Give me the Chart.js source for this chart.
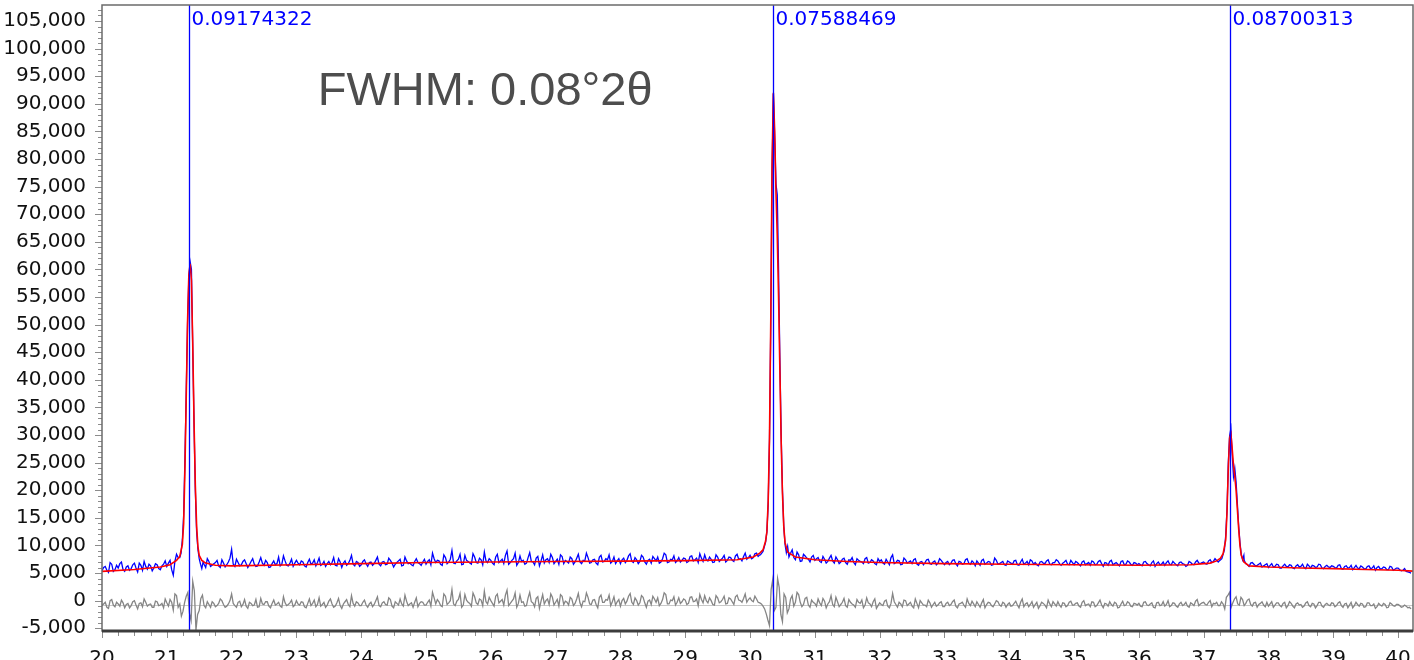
<!DOCTYPE html>
<html>
<head>
<meta charset="utf-8">
<title>XRD profile fit</title>
<script src="https://cdn.jsdelivr.net/npm/chart.js@4.4.1/dist/chart.umd.min.js"></script>
<style>
    html, body { margin: 0; padding: 0; background: #fff; }
    .chart-box { width: 1414px; height: 660px; position: relative; }
</style>
</head>
<body>
<div class="chart-box"><canvas id="xrdChart"></canvas></div>
<script>
// Scan settings (degrees 2theta)
const scanStart = 20.0;
const scanStep = 0.05;

// Observed counts on the whole steps, one row per degree; null where peak detail takes over
const obsCounts = [
    5400, 6200, 5100, 6600, 5600, 5900, 7000, 5300, 6300, 5800, 6800, 5200, 6400, 7100, 5700, 6300, 5900, 6500, 5600, 6600,
    6200, 7300, 4600, 8400, null, null, null, null, null, null, null, null, 6000, 7100, 6400, 6900, 6300, 7400, 6100, 7000,
    9300, 6200, 6900, 6500, 7400, 6000, 7100, 6600, 6300, 7800, 6400, 6900, 6100, 7200, 6700, 6300, 8100, 6400, 6800, 6200,
    7300, 6500, 7000, 6100, 7500, 6800, 6300, 7700, 6600, 6200, 7100, 6900, 6400, 7600, 6000, 7200, 6700, 8200, 6300, 6900,
    6500, 7400, 6200, 7000, 6700, 7900, 6300, 7100, 6600, 7300, 6100, 6900, 7500, 6400, 7200, 6800, 6300, 7600, 6700, 7000,
    6600, 7400, 8600, 6900, 7200, 6400, 7800, 7000, 9100, 6700, 7500, 6500, 8200, 7100, 6600, 7900, 6800, 7400, 8800, 6900,
    7300, 6500, 8400, 7200, 6700, 9000, 6900, 7600, 6400, 8100, 7300, 6800, 8700, 7000, 7700, 6300, 8300, 7400, 6900, 7800,
    7100, 6600, 8000, 7300, 6800, 7600, 7000, 8400, 6700, 7200, 7800, 6900, 7500, 6500, 8200, 7100, 7400, 6800, 7900, 7200,
    6700, 7700, 7300, 8500, 6900, 7400, 7100, 7900, 6600, 7500, 8000, 7200, 6800, 7600, 8300, 7000, 7400, 6900, 7800, 7300,
    7600, 7100, 8100, 7400, 6900, 7700, 8300, 7200, 7500, 7000, 7900, 7400, 8200, 7300, 7800, 7100, 8400, 7600, 8000, 7500,
    8200, 7800, 8600, 8300, null, null, null, null, null, null, null, null, 7900, 9200, 7400, 8300, 7200, 8100, 7500, 7900,
    7300, 7800, 6900, 7500, 7100, 8200, 6800, 7400, 7000, 7700, 6600, 7300, 6900, 7600, 7100, 6700, 7800, 6900, 7200, 6500,
    7100, 6800, 7500, 6500, 8300, 6900, 7200, 6600, 7400, 7000, 6700, 7600, 6400, 7100, 6900, 7500, 6600, 7200, 6800, 7300,
    6500, 7100, 6800, 7400, 6300, 7000, 6700, 7600, 6600, 6900, 7200, 6400, 7500, 6800, 7000, 6500, 7300, 6700, 7100, 6400,
    7000, 6600, 7300, 6400, 7500, 6800, 6500, 7200, 6900, 6300, 7100, 6700, 7400, 6500, 6900, 7200, 6400, 7000, 6600, 7300,
    6500, 6900, 6300, 7200, 6700, 6400, 7000, 6600, 7300, 6200, 6800, 7100, 6500, 6900, 6300, 7200, 6600, 7000, 6400, 6800,
    6700, 6300, 7100, 6500, 6900, 6200, 7000, 6600, 6400, 7200, 6500, 6800, 6300, 7000, 6600, 6400, 6900, 6500, 7300, 6700,
    7000, 6600, 7400, 7100, 7300, null, null, null, null, null, null, null, null, 6700, 6200, 6900, 6300, 6600, 6100, 6500,
    6000, 6700, 6200, 6500, 5900, 6600, 6100, 6400, 5800, 6500, 6200, 6000, 6600, 5900, 6300, 6100, 6500, 5800, 6400, 6000,
    6200, 5900, 6500, 5700, 6300, 6000, 5600, 6400, 5800, 6100, 5700, 6300, 5900, 5500, 6200, 5800, 6000, 5600, 6100, 5700,
    5900, 5400, 5800, 5200, 5000
];

// Observed counts on the half steps (20.025, 20.075, ...)
const obsCountsMid = [
    6000, 5500, 6900, 5300, 6400, 6700, 5600, 6100, 5500, 6500, 5900, 6800, 5500, 6200, 6600, 5400, 6700, 5800, 6300, 7200,
    6800, 5600, 7100, 7800, null, null, null, null, null, null, null, 6600, 7600, 6200, 6700, 7300, 6000, 6800, 6500, 7700,
    6600, 7500, 6300, 7100, 6700, 6500, 7600, 6200, 7000, 6800, 7300, 6000, 6700, 6500, 7900, 6600, 7200, 6300, 7500, 6800,
    6800, 7200, 6300, 6900, 6600, 7400, 6900, 6400, 7100, 6700, 6500, 7800, 6300, 7000, 6800, 6400, 7300, 6600, 7100, 6200,
    7100, 6700, 6900, 6400, 7300, 6600, 7000, 6500, 7700, 6800, 6600, 7200, 6300, 7900, 6700, 6500, 7100, 6900, 6400, 7500,
    7100, 6500, 7600, 7300, 6600, 8300, 6700, 7500, 6800, 7200, 8400, 6600, 7300, 6800, 8500, 6900, 7700, 6500, 7200, 7600,
    6800, 7900, 6900, 7500, 8200, 6600, 7300, 8600, 6900, 7100, 6600, 7800, 7100, 6500, 8000, 7200, 6800, 7600, 8400, 6700,
    7500, 8300, 6700, 7100, 7900, 6600, 7700, 7000, 7300, 8600, 6800, 7400, 6800, 7900, 7000, 7600, 8300, 7100, 6700, 7600,
    7400, 6900, 8100, 7100, 7800, 6700, 8200, 7000, 7300, 6800, 7600, 7900, 7000, 8600, 6900, 7500, 8100, 7200, 7000, 7700,
    6900, 8000, 7200, 7700, 8500, 7100, 7400, 7900, 6900, 8300, 7100, 7700, 7000, 7900, 7300, 8100, 7500, 7200, 8600, 7800,
    7600, 8500, 8000, null, null, null, null, null, null, null, null, null, 8600, 7800, 8800, 7100, 8400, 7700, 7000, 8200,
    7600, 7100, 8000, 6800, 7700, 7200, 7900, 6700, 7500, 6900, 7400, 7800, 6500, 7300, 7000, 7600, 6800, 7400, 6700, 7600,
    7400, 6600, 7000, 7800, 6700, 7300, 6500, 7700, 6800, 7200, 7400, 6600, 7000, 6500, 7400, 6700, 7000, 6500, 7600, 6900,
    6900, 6500, 7300, 6700, 7100, 6600, 7400, 6800, 7200, 6300, 6800, 7300, 6600, 7100, 6400, 7700, 6600, 6900, 6500, 7200,
    6800, 7200, 6500, 7000, 6600, 7100, 7400, 6600, 6500, 7000, 6800, 7200, 6600, 6900, 7400, 6700, 6800, 7300, 6500, 6900,
    7100, 6600, 7000, 6500, 6900, 7200, 6500, 7100, 6700, 6900, 6400, 7300, 6700, 6600, 7100, 6500, 7200, 6600, 6900, 6500,
    6500, 7000, 6700, 6300, 7200, 6700, 6500, 7000, 6900, 6600, 7100, 6500, 6900, 6700, 6200, 7100, 6600, 7000, 6800, 6900,
    6700, 7200, 6900, 7600, 7000, null, null, null, null, null, null, null, 7300, 6500, 6800, 6600, 6400, 6800, 6300, 6700,
    6400, 6100, 6600, 5900, 6300, 6200, 6500, 5900, 6300, 6100, 6600, 5800, 6300, 6400, 6000, 6600, 5900, 6200, 6100, 6300,
    6000, 6400, 5800, 6200, 5900, 6400, 6000, 5900, 6300, 5800, 6200, 5800, 6300, 6000, 5700, 6100, 5600, 6200, 5500, 5900,
    5600, 5500, 5300, 5100
];

// Observed peak detail (finer steps)
const peak1Theta = [21.20, 21.22, 21.24, 21.26, 21.28, 21.30, 21.32, 21.34, 21.36, 21.38, 21.40, 21.42, 21.44, 21.46, 21.48, 21.50, 21.52, 21.54, 21.56];
const peak1Counts = [7800, 8600, 11000, 15500, 26000, 38000, 50000, 58500, 61400, 60000, 46000, 32000, 20000, 12500, 9300, 7600, 6600, 5800, 7000];
const peak2Theta = [30.16, 30.20, 30.24, 30.26, 30.28, 30.30, 30.32, 30.34, 30.36, 30.38, 30.40, 30.42, 30.44, 30.46, 30.48, 30.50, 30.52, 30.54, 30.56, 30.58];
const peak2Counts = [8300, 8900, 10600, 12500, 17500, 29000, 50000, 78000, 91800, 84000, 75500, 73500, 60000, 44000, 30000, 20000, 13500, 10200, 8700, 9800];
const peak3Theta = [37.24, 37.28, 37.32, 37.34, 37.36, 37.38, 37.40, 37.42, 37.44, 37.46, 37.48, 37.50, 37.52, 37.54, 37.56, 37.58, 37.60, 37.62];
const peak3Counts = [7200, 7600, 9200, 11800, 16500, 25000, 29800, 31200, 26500, 22500, 24000, 21500, 17500, 13500, 10500, 8400, 7400, 8200];

// Calculated profile
const calcTheta = [
    20.0, 20.5, 20.9, 21.05, 21.15, 21.20, 21.24, 21.26, 21.28, 21.30, 21.32, 21.34, 21.36, 21.38, 21.40, 21.42, 21.44, 21.46, 21.48, 21.50, 21.54, 21.60, 21.75,
    22.0, 23.0, 24.0, 25.0, 26.0, 27.0, 28.0, 29.0, 29.8, 30.05,
    30.15, 30.20, 30.24, 30.26, 30.28, 30.30, 30.32, 30.34, 30.36, 30.38, 30.40, 30.42, 30.44, 30.46, 30.48, 30.50, 30.52, 30.54, 30.58, 30.70,
    31.0, 31.5, 32.0, 33.0, 34.0, 35.0, 36.0, 36.8, 37.1, 37.2,
    37.26, 37.30, 37.34, 37.36, 37.38, 37.40, 37.42, 37.44, 37.46, 37.48, 37.50, 37.52, 37.54, 37.56, 37.58, 37.62, 37.70,
    38.0, 38.5, 39.0, 39.5, 40.0, 40.23
];
const calcCounts = [
    5300, 5650, 6100, 6500, 7300, 8000, 10200, 14000, 24000, 37000, 50500, 59000, 61000, 58000, 46500, 32500, 21000, 13500, 9800, 8200, 7300, 6800, 6400,
    6300, 6500, 6700, 6900, 7000, 7100, 7150, 7250, 7400, 7900,
    8600, 9200, 10800, 12500, 18000, 29500, 51000, 79000, 92000, 85000, 74000, 66000, 55000, 42000, 29000, 19500, 13500, 10500, 8800, 7900,
    7400, 7100, 6900, 6700, 6600, 6500, 6400, 6500, 6800, 7200,
    7700, 8500, 11000, 16000, 24000, 29500, 30200, 27500, 24500, 22500, 20000, 16500, 13000, 10000, 8200, 7000, 6300,
    6100, 5900, 5800, 5650, 5500, 5350
];

// Difference curve, whole steps and half steps
const diffCounts = [
    -900, -300, -1400, 200, -1100, -600, 100, -1300, -500, -900, 0, -1500, -400, 300, -1000, -600, -1200, -200, -800, -1300,
    -400, 200, -1700, 900, -600, -1900, 800, -2300, 3500, -5300, -1800, 1000, -1300, -700, -200, -1100, -500, 0, -1200, -600,
    1200, -900, -300, -1100, 200, -1400, -500, -800, -1200, 400, -700, -200, -1300, 100, -600, -1000, 700, -900, -400, -1100,
    0, -800, -300, -1300, 300, -500, -1100, 500, -700, -1200, -100, -600, -1000, 400, -1400, -200, -700, 900, -1000, -400,
    -900, 100, -1200, -300, -700, 700, -1100, -200, -800, 200, -1300, -500, 300, -1000, -100, -600, -1200, 500, -500, -300,
    -800, 100, 1500, -600, -200, -1100, 800, -400, 2000, -900, 200, -1200, 1100, -300, -1000, 700, -700, 100, 1700, -600,
    0, -1000, 1200, -100, -800, 1900, -500, 300, -1200, 1000, -200, -900, 1500, -400, 400, -1400, 1100, 0, -700, 600,
    -300, -1000, 800, -100, -800, 300, -500, 1300, -1100, -200, 600, -700, 200, -1300, 1000, -300, 100, -900, 700, -200,
    -1000, 400, -100, 1300, -700, 0, -400, 600, -1200, 100, 800, -300, -900, 200, 1100, -600, 0, -800, 500, -200,
    100, -500, 700, -100, -900, 200, 900, -400, 0, -800, 500, -200, 800, -500, 300, -700, 1000, 0, 400, -300,
    500, -200, 300, -400, -1000, -2400, -4500, 3800, -1200, 2400, -3800, 600, -1500, 900, -300, 1100, -1100, 400, -800, 100,
    -500, 300, -900, -100, -600, 900, -1100, -200, -700, 400, -1200, -300, -800, 200, -500, -1300, 500, -600, -200, -1400,
    -400, -900, 100, -1300, 1300, -700, -300, -1100, 0, -600, -1000, 300, -1300, -400, -800, 100, -1200, -300, -800, -200,
    -1100, -300, -700, 100, -1300, -500, -800, 300, -900, -600, -200, -1200, 200, -700, -400, -1100, 0, -800, -300, -1200,
    -400, -900, -100, -1300, 300, -600, -1100, -200, -700, -1400, -300, -800, 100, -1100, -600, -200, -1200, -500, -900, -100,
    -800, -400, -1200, 0, -700, -1100, -300, -900, 100, -1300, -600, -200, -1000, -500, -1200, -100, -800, -400, -1100, -600,
    -500, -1100, -200, -900, -400, -1300, -300, -800, -1000, 0, -900, -500, -1200, -300, -700, -1000, -400, -900, 200, -600,
    -300, -800, 0, -500, -300, -900, -600, 600, 1500, -400, 700, -800, 200, -500, 300, -1000, -300, -700, -200, -1100,
    -1000, -200, -800, -400, -1100, -300, -900, -500, -1300, -400, -700, -1000, -200, -1100, -600, -900, -300, -1200, -500, -900,
    -500, -900, -200, -1200, -500, -800, -1300, -300, -1000, -600, -1100, -400, -900, -1400, -500, -1000, -700, -1200, -600, -1000,
    -700, -1200, -800, -1300, -1500
];
const diffCountsMid = [
    -600, -1200, 0, -800, -300, -1000, -400, -700, -1300, -200, -800, -500, -1100, -300, -700, -1200, -100, -900, -500, 300,
    -1000, -300, 1200, -1200, -2800, -300, 1500, -3600, 1800, -2500, 400, -900, -200, -1200, -500, -900, 300, -700, -1000, 0,
    -500, -1200, -100, -700, -1000, -300, -900, 200, -1100, -600, -200, -1000, -500, -800, -300, -1200, -400, -700, 100, -800,
    -600, -200, -1100, -500, -900, 100, -700, -1000, -300, -800, 300, -1200, -400, -900, -600, 200, -1100, -500, -200, -900,
    -300, -800, -600, -1100, 0, -900, -400, -700, 500, -1000, -200, -800, -600, 1000, -900, -400, -300, -1100, -200, -800,
    -300, -1000, 500, 200, -900, 1200, -700, 0, -600, -100, 1300, -800, 100, -500, 1400, -400, 300, -900, -200, 600,
    -500, 800, -400, 200, 1000, -900, -100, 1400, -500, -300, -1000, 500, -200, -1100, 700, -100, -600, 300, 1200, -800,
    200, 1100, -700, -300, 600, -900, 300, -400, -100, 1400, -600, 100, -700, 600, -300, 200, 1000, -200, -800, 200,
    0, -600, 800, -300, 500, -800, 900, -400, -100, -700, 300, 500, -500, 1400, -600, 100, 700, -300, -500, 300,
    -700, 600, -200, 300, 1100, -400, 0, 500, -700, 900, -400, 200, -600, 500, -200, 700, 100, -300, 1200, 200,
    0, 800, -300, -600, -1500, -3500, 2000, -1800, 4000, -2500, 1200, -2200, 300, -1000, 1500, -300, -700, 600, -1200, -300,
    -1000, -400, 400, -1300, -200, -700, 600, -1100, -300, -900, 200, -600, -1200, -300, 100, -800, -400, -1100, 300, -900,
    -700, -100, -1000, -500, -200, -1200, -600, 100, -900, -300, -1300, -500, 0, -800, -1100, -400, -700, -1000, -400, -1100,
    -500, -900, -200, -1000, -600, -300, -1200, -500, -100, -1100, -700, -400, -1300, -300, -900, -600, -200, -1000, -500, -700,
    -1000, -500, -800, -300, -1100, -400, -700, -1200, -300, -900, -500, -1300, -600, -200, -1000, -800, -400, -1100, -300, -800,
    -500, -1000, -300, -900, -600, -200, -1100, -400, -800, -500, -1000, -700, -300, -1300, -600, -900, -200, -1000, -500, -800,
    -1000, -300, -800, -600, -1200, -400, -900, -200, -700, -1100, -400, -1000, -600, -900, -300, -1200, -600, -100, -900, -400,
    -700, -300, -1100, -600, -900, -200, -1500, 1000, -1200, 300, -600, 600, -900, 100, -700, -400, -1200, -500, -800, -300,
    -600, -1200, -400, -900, -500, -1300, -200, -1000, -600, -800, -1200, -400, -900, -500, -1300, -300, -1000, -700, -800, -400,
    -1100, -400, -900, -600, -1300, -300, -900, -700, -500, -1200, -400, -900, -600, -1100, -800, -500, -1300, -400, -900, -700,
    -900, -1100, -1000, -1200
];
const diffZero = -700;

// Peak markers and their FWHM labels
const peakTheta = [21.343, 30.357, 37.41];
const peakLabels = ['0.09174322', '0.07588469', '0.08700313'];

// Annotation
const noteText = 'FWHM: 0.08\u00B02\u03B8';
const noteAt = [23.33, 92200];

// Axis ticks
const xTickValues = [20, 21, 22, 23, 24, 25, 26, 27, 28, 29, 30, 31, 32, 33, 34, 35, 36, 37, 38, 39, 40];
const yTickValues = [-5000, 0, 5000, 10000, 15000, 20000, 25000, 30000, 35000, 40000, 45000, 50000,
    55000, 60000, 65000, 70000, 75000, 80000, 85000, 90000, 95000, 100000, 105000];
const xRange = [20, 40.23];
const yRange = [-5500, 107900];

// Helpers
function scanPoints(counts, offset) {
    const pts = [];
    counts.forEach((c, i) => {
        if (c === null) return;
        pts.push({ x: +(scanStart + offset + i * scanStep).toFixed(3), y: c });
    });
    return pts;
}

function pairPoints(xs, ys) {
    return xs.map((x, i) => ({ x: x, y: ys[i] }));
}

const byTheta = (a, b) => a.x - b.x;
const obsPoints = scanPoints(obsCounts, 0)
    .concat(scanPoints(obsCountsMid, scanStep / 2))
    .concat(pairPoints(peak1Theta, peak1Counts), pairPoints(peak2Theta, peak2Counts), pairPoints(peak3Theta, peak3Counts))
    .sort(byTheta);
const calcPoints = pairPoints(calcTheta, calcCounts);
const diffPoints = scanPoints(diffCounts, 0).concat(scanPoints(diffCountsMid, scanStep / 2)).sort(byTheta);

const tickFont = { family: '"DejaVu Sans", sans-serif', size: 20 };

// Frame, minor ticks, peak markers, annotation
const decorPlugin = {
    id: 'decor',
    beforeDatasetsDraw(chart) {
        const { ctx, chartArea: a, scales: { y } } = chart;
        const py = Math.round(y.getPixelForValue(diffZero)) + 0.5;
        ctx.save();
        ctx.strokeStyle = '#c8c8c8';
        ctx.lineWidth = 1;
        ctx.beginPath();
        ctx.moveTo(a.left, py);
        ctx.lineTo(a.right, py);
        ctx.stroke();
        ctx.restore();
    },
    afterDatasetsDraw(chart) {
        const { ctx, chartArea: a, scales: { x, y } } = chart;
        ctx.save();
        // vertical peak lines
        ctx.strokeStyle = '#0000ff';
        ctx.lineWidth = 1.3;
        ctx.fillStyle = '#0000ff';
        ctx.font = '20px "DejaVu Sans", sans-serif';
        ctx.textAlign = 'left';
        ctx.textBaseline = 'middle';
        peakTheta.forEach((t, i) => {
            const px = Math.round(x.getPixelForValue(t)) + 0.5;
            ctx.beginPath();
            ctx.moveTo(px, a.top);
            ctx.lineTo(px, a.bottom);
            ctx.stroke();
            ctx.fillText(peakLabels[i], px + 2, a.top + 15);
        });
        // FWHM note
        ctx.fillStyle = '#4d4d4d';
        ctx.font = '47px "Liberation Sans", Arial, sans-serif';
        ctx.fillText(noteText, x.getPixelForValue(noteAt[0]), y.getPixelForValue(noteAt[1]));
        ctx.restore();
    },
    afterDraw(chart) {
        const { ctx, chartArea: a, scales: { x, y } } = chart;
        ctx.save();
        // minor / major tick marks
        ctx.strokeStyle = '#8c8c8c';
        ctx.lineWidth = 1;
        ctx.beginPath();
        for (let v = -5000; v <= yRange[1]; v += 1000) {
            const py = Math.round(y.getPixelForValue(v)) + 0.5;
            const len = v % 5000 === 0 ? 7 : 4;
            ctx.moveTo(a.left - len, py);
            ctx.lineTo(a.left, py);
        }
        for (let k = 0; scanStart + k * 0.25 <= xRange[1]; k++) {
            const px = Math.round(x.getPixelForValue(scanStart + k * 0.25)) + 0.5;
            const len = k % 4 === 0 ? 6 : 4;
            ctx.moveTo(px, a.bottom + 1);
            ctx.lineTo(px, a.bottom + 1 + len);
        }
        ctx.stroke();
        // frame
        ctx.strokeStyle = '#6b6b6b';
        ctx.lineWidth = 1.5;
        ctx.strokeRect(a.left, a.top, a.right - a.left, a.bottom - a.top);
        // bottom axis line
        ctx.strokeStyle = '#3c3c3c';
        ctx.lineWidth = 3;
        ctx.beginPath();
        ctx.moveTo(a.left, a.bottom);
        ctx.lineTo(a.right, a.bottom);
        ctx.stroke();
        ctx.restore();
    }
};

new Chart(document.getElementById('xrdChart').getContext('2d'), {
    type: 'line',
    data: {
        datasets: [
            {
                label: 'Calculated',
                data: calcPoints,
                borderColor: '#ff0000',
                borderWidth: 1.6,
                pointRadius: 0,
                tension: 0
            },
            {
                label: 'Observed',
                data: obsPoints,
                borderColor: '#0000ff',
                borderWidth: 1.3,
                pointRadius: 0,
                tension: 0
            },
            {
                label: 'Difference',
                data: diffPoints,
                borderColor: '#858585',
                borderWidth: 1.3,
                pointRadius: 0,
                tension: 0
            }
        ]
    },
    options: {
        responsive: true,
        maintainAspectRatio: false,
        animation: false,
        parsing: false,
        layout: { padding: { top: 5, right: 1, left: 0, bottom: 0 } },
        plugins: {
            legend: { display: false },
            tooltip: { enabled: false }
        },
        scales: {
            x: {
                type: 'linear',
                min: xRange[0],
                max: xRange[1],
                afterBuildTicks: scale => { scale.ticks = xTickValues.map(v => ({ value: v })); },
                afterFit: scale => {
                    scale.height = 29;
                    scale.paddingLeft = 0;
                    scale.paddingRight = 0;
                },
                grid: { display: false },
                border: { display: false },
                ticks: {
                    font: tickFont,
                    color: '#111',
                    padding: 8,
                    maxRotation: 0,
                    autoSkip: false,
                    callback: v => String(v)
                }
            },
            y: {
                type: 'linear',
                min: yRange[0],
                max: yRange[1],
                afterBuildTicks: scale => { scale.ticks = yTickValues.map(v => ({ value: v })); },
                afterFit: scale => {
                    scale.width = 102;
                    scale.paddingTop = 0;
                    scale.paddingBottom = 0;
                },
                grid: { display: false },
                border: { display: false },
                ticks: {
                    font: tickFont,
                    color: '#111',
                    padding: 8,
                    autoSkip: false,
                    callback: v => v.toLocaleString('en-US')
                }
            }
        }
    },
    plugins: [decorPlugin]
});
</script>
</body>
</html>
